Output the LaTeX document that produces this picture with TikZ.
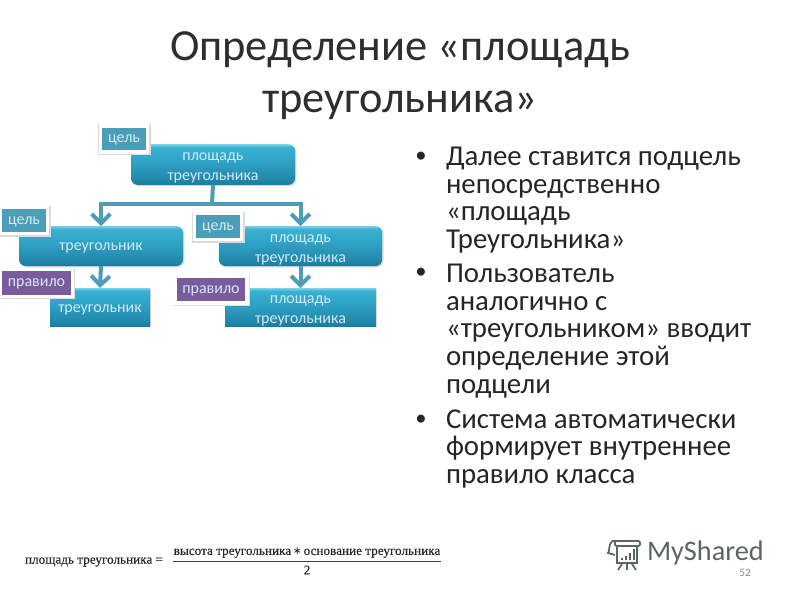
\documentclass[tikz,border=0pt]{standalone}
\usepackage{fontspec}
\setmainfont{Carlito}
\newfontfamily\eqfont[FakeBold=0.25]{Liberation Serif}
\newfontfamily\symfont{DejaVu Sans}
\usetikzlibrary{arrows.meta,shadows,calc}
\definecolor{inktitle}{HTML}{2E2E2E}
\definecolor{inkbody}{HTML}{262626}
\definecolor{boxtext}{HTML}{CFEAF2}
\definecolor{conncol}{HTML}{4F9DB5}
\definecolor{goalcol}{HTML}{4C9DB8}
\definecolor{rulecol}{HTML}{7A5C9C}
\definecolor{logocol}{HTML}{5A6664}
\definecolor{shadeA}{HTML}{1C7A9C}
\definecolor{shadeB}{HTML}{2388AB}
\definecolor{shadeC}{HTML}{2FA3C6}
\definecolor{shadeD}{HTML}{38B1D2}
\definecolor{shadeE}{HTML}{7AD3E6}
\pgfdeclareverticalshading{boxshade}{100bp}{
 color(0bp)=(shadeA);
 color(25bp)=(shadeA);
 color(32bp)=(shadeB);
 color(55bp)=(shadeC);
 color(71bp)=(shadeD);
 color(75bp)=(shadeE);
 color(100bp)=(shadeE)}
\newcommand{\toppad}{\mbox{}\\[-4pt]}
\tikzset{
 every node/.style={inner sep=0pt,outer sep=0pt},
 cbox/.style={shading=boxshade,text=boxtext,align=center,
   font=\fontsize{12}{15}\selectfont,
   drop shadow={shadow xshift=1pt,shadow yshift=-1pt,opacity=.3}},
 roundbox/.style={cbox,rounded corners=5pt},
 squarebox/.style={cbox},
 tagbox/.style={draw=white,line width=2.6pt,text=boxtext,text depth=-2.5pt,
   font=\fontsize{12}{14}\selectfont,
   preaction={draw=black!14,line width=3.6pt,transform canvas={shift={(.4pt,-.4pt)}}}},
 goaltag/.style={tagbox,fill=goalcol},
 ruletag/.style={tagbox,fill=rulecol},
 conn/.style={draw=conncol,line width=3pt,-{Straight Barb[length=7pt,width=14pt,line width=3pt]}},
 connplain/.style={draw=conncol,line width=3pt},
 titletext/.style={text=inktitle,font=\fontsize{33.3}{39}\selectfont,align=center},
 bodytext/.style={text=inkbody,font=\fontsize{21.6}{20.8}\selectfont,align=left,anchor=north west},
 bullet/.style={text=inkbody,font=\fontsize{17}{20}\selectfont},
 eqtext/.style={text=black!85,font=\eqfont\fontsize{9.9}{11}\selectfont},
 logoline/.style={draw=logocol,line width=1.3pt}
}
\begin{document}
\begin{tikzpicture}[x=0.75pt,y=-0.75pt]
\useasboundingbox (0,0) rectangle (800,600);
\fill[white] (0,0) rectangle (800,600);

\node[titletext] (title) at (400,76) {Определение «площадь\\треугольника»};

\coordinate (bus) at (212,204);
\node[roundbox,minimum width=123pt,minimum height=30.5pt] (top) at (213,164.5) {\toppad площадь\\треугольника};
\node[roundbox,minimum width=123pt,minimum height=30pt] (left) at (101,246) {\rule{0pt}{9pt}треугольник};
\node[roundbox,minimum width=122.5pt,minimum height=30pt] (right) at (300.5,246) {\toppad площадь\\треугольника};
\node[squarebox,minimum width=75pt,minimum height=28.5pt] (ruleleft) at (100,307) {\rule{0pt}{10.5pt}треугольник};
\node[squarebox,minimum width=113pt,minimum height=28.5pt] (ruleright) at (300.5,307) {\toppad площадь\\треугольника};

\draw[connplain] (top.south) -- (bus);
\draw[conn] (bus) -| (left.north);
\draw[conn] (bus) -| (right.north);
\draw[conn] (left.south) -- (ruleleft.north);
\draw[conn] (right.south) -- (ruleright.north);

\node[goaltag,minimum width=35.6pt,minimum height=19.6pt] (tagA) at (124,139) {цель};
\node[goaltag,minimum width=35.6pt,minimum height=19.6pt] (tagB) at (24,220.5) {цель};
\node[goaltag,minimum width=35.6pt,minimum height=19.6pt] (tagC) at (218,226.5) {цель};
\node[ruletag,minimum width=54pt,minimum height=20pt] (tagD) at (36.5,283) {правило};
\node[ruletag,minimum width=54pt,minimum height=20pt] (tagE) at (211,289.5) {правило};

\node[bullet] (b1) at (421,157) {•};
\node[bullet] (b2) at (421,273) {•};
\node[bullet] (b3) at (421,420) {•};
\node[bodytext] (t1) at (446,147) {Далее ставится подцель\\непосредственно\\«площадь\\Треугольника»};
\node[bodytext] (t2) at (446,264) {Пользователь\\аналогично с\\«треугольником» вводит\\определение этой\\подцели};
\node[bodytext] (t3) at (446,409.5) {Система автоматически\\формирует внутреннее\\правило класса};

\node[eqtext,anchor=west] (eql) at (25,562) {площадь треугольника =};
\node[eqtext] (eqn) at (307,553) {высота треугольника{\symfont\fontsize{8}{10}\selectfont\,∗\,}основание треугольника};
\node[eqtext] (eqd) at (307,570) {2};
\coordinate (fa) at (173,561.5);
\coordinate (fb) at (441,561.5);
\draw[black!75,line width=.7pt] (fa) -- (fb);

\draw[logoline,rounded corners=1pt] (612,541) -- (640,541) -- (640,546) -- (615,546) -- (615,541);
\draw[logoline] (612,541) .. controls (608,545) and (610,552) .. (608,553) -- (615,555);
\draw[logoline] (617,546) -- (617,563) -- (637,563) -- (637,546);
\fill[logocol] (621,558) rectangle (623,560);
\fill[logocol] (625,556) rectangle (627,560);
\fill[logocol] (629,553) rectangle (631,560);
\fill[logocol] (633,549) rectangle (635,560);
\draw[logoline] (622,564) -- (618,570);
\draw[logoline] (627,564) -- (627,570);
\draw[logoline] (632,564) -- (636,570);
\node[text=logocol,anchor=west,font=\fontsize{21.2}{24}\selectfont] (logo) at (647,553) {MyShared};
\node[text=black!45,font=\fontsize{8.5}{10}\selectfont] (pagenum) at (745,573) {52};
\end{tikzpicture}
\end{document}
